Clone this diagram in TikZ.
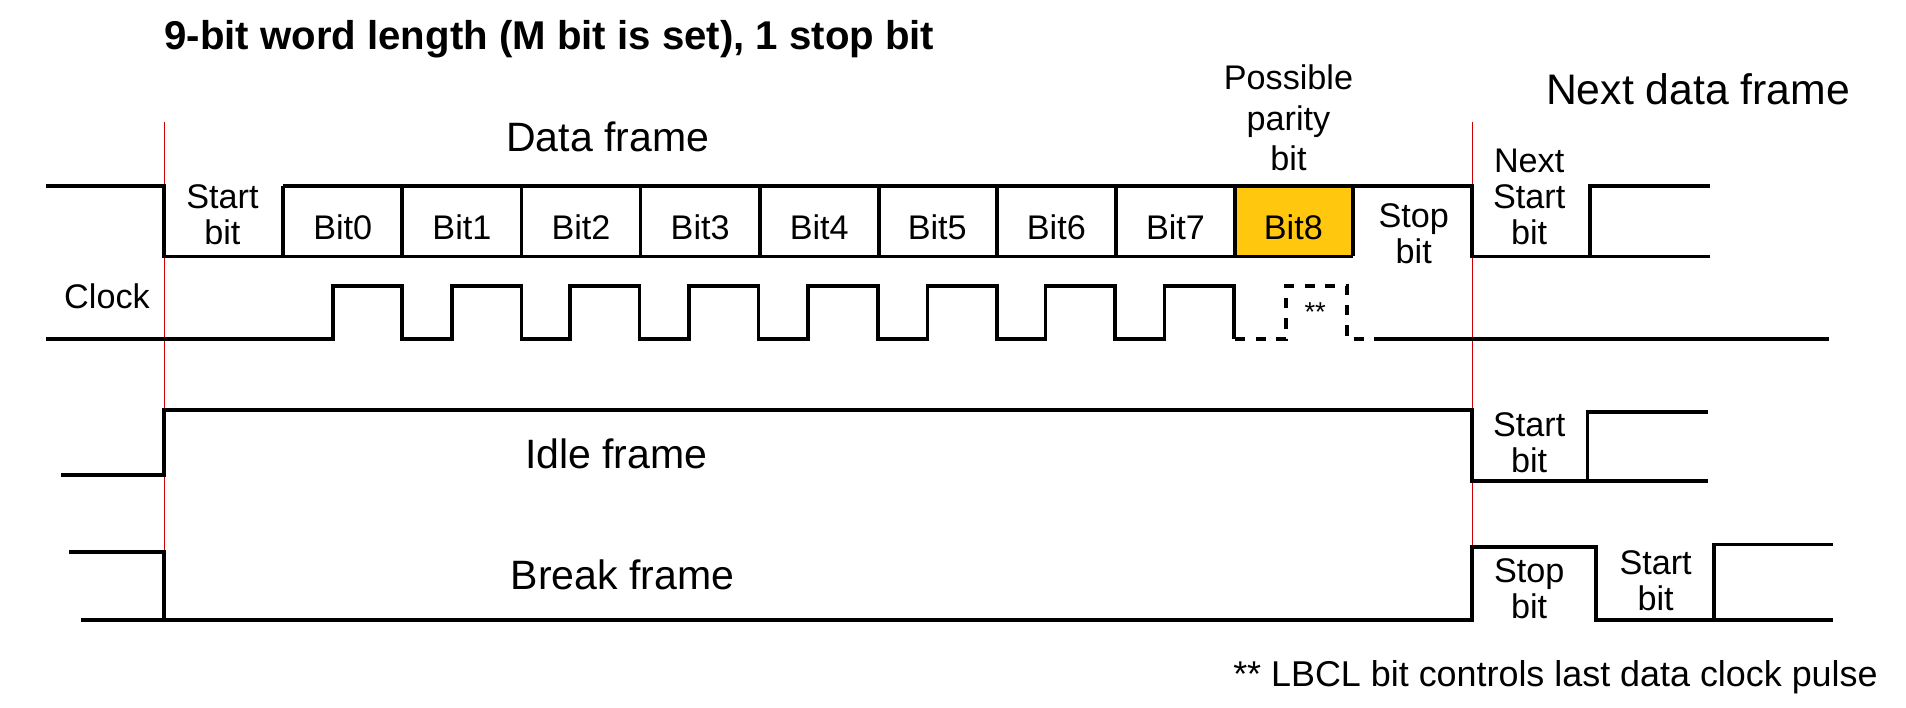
\documentclass[tikz,border=0pt]{standalone}
\usepackage{fontspec}
\setmainfont{Liberation Sans}
\usetikzlibrary{positioning}

\definecolor{parityfill}{HTML}{FFC80F}
\tikzset{
  wave/.style={line width=2.2pt, black},
  dwave/.style={wave, dash pattern=on 6pt off 6pt},
  marker/.style={red!80!black, line width=0.6pt},
  lbl/.style={font=\fontsize{20}{21}\selectfont, align=center, inner sep=0pt},
  big/.style={font=\fontsize{24}{25}\selectfont, inner sep=0pt}
}

\begin{document}
\begin{tikzpicture}[x=0.025cm, y=-0.025cm]
\useasboundingbox (0,0) rectangle (1568,582);

% title
\node[anchor=west, font=\bfseries\fontsize{23.5}{24}\selectfont, inner sep=0pt] (title) at (135,32) {9-bit word length (M bit is set), 1 stop bit};

% frame boundaries
\draw[marker] (135,100) -- (135,510);
\draw[marker] (1211,100) -- (1211,510);

% data frame
\fill[parityfill] (1016,153) rectangle (1113,211);
\draw[wave] (38,153) -- (135,153) -- (135,211) -- (1113,211);
\draw[wave] (233,153) -- (1211,153) -- (1211,211) -- (1308,211) -- (1308,153) -- (1407,153);
\draw[wave] (1308,211) -- (1407,211);
\foreach \x in {233,331,429,527,625,723,820,918,1016,1113}
  \draw[wave] (\x,153) -- (\x,211);
\node[lbl] (start) at (183,177) {Start\\bit};
\foreach \i [count=\n from 0] in {282,380,478,576,674,771,869,967}
  \node[lbl] (bit\n) at (\i,187) {Bit\n};
\node[lbl] (bit8) at (1064,187) {Bit8};
\node[lbl] (stop) at (1163,192) {Stop\\bit};
\node[lbl] (nstart) at (1258,162) {Next\\Start\\bit};
\node[big] (data) at (500,113) {Data frame};
\node[lbl, font=\fontsize{20}{23.5}\selectfont] (parity) at (1060,97) {Possible\\parity\\bit};
\node[big, font=\fontsize{25}{26}\selectfont] (next) at (1397,73) {Next data frame};

% clock
\node[lbl] (clock) at (88,244) {Clock};
\draw[wave] (38,279)
  \foreach \r in {274,372,469,567,665,763,860,958} {
    -- (\r,279) -- (\r,235) -- ++(57,0) -- ++(0,44) };
\draw[dwave] (1016,279) -- (1058,279) -- (1058,235) -- (1108,235) -- (1108,279) -- (1135,279);
\draw[wave] (1135,279) -- (1505,279);
\node[lbl, font=\fontsize{16}{17}\selectfont] (lbcl) at (1082,257) {**};

% idle frame
\draw[wave] (50,391) -- (135,391) -- (135,337) -- (1211,337) -- (1211,396) -- (1306,396) -- (1306,339) -- (1405,339);
\draw[wave] (1306,396) -- (1405,396);
\node[big] (idle) at (507,373) {Idle frame};
\node[lbl] (istart) at (1258,364) {Start\\bit};

% break frame
\draw[wave] (57,454) -- (135,454) -- (135,510);
\draw[wave] (67,510) -- (1211,510) -- (1211,450) -- (1313,450) -- (1313,510) -- (1410,510) -- (1410,448) -- (1508,448);
\draw[wave] (1410,510) -- (1508,510);
\node[big] (break) at (512,473) {Break frame};
\node[lbl] (bstop) at (1258,484) {Stop\\bit};
\node[lbl] (bstart) at (1362,478) {Start\\bit};

% footnote
\node[lbl, anchor=east, font=\fontsize{21}{22}\selectfont] (note) at (1545,557) {** LBCL bit controls last data clock pulse};
\end{tikzpicture}
\end{document}
